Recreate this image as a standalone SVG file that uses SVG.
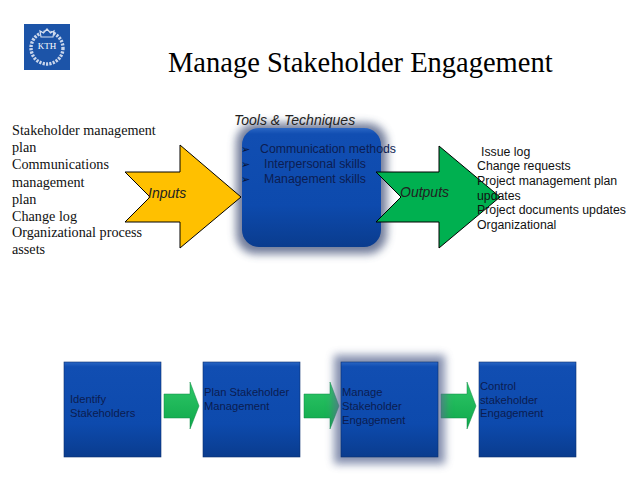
<svg xmlns="http://www.w3.org/2000/svg" width="638" height="479" viewBox="0 0 638 479">
<style>
text{font-family:"Liberation Sans",Arial,sans-serif;fill:#000}
.serif{font-family:"Liberation Serif","Times New Roman",serif;font-size:14.2px;fill:#111}
.title{font-family:"Liberation Serif","Times New Roman",serif;font-size:28.5px}
.sans{font-size:12.3px;fill:#111}
.ital{font-style:italic;font-size:14px;fill:#222}
.dark{font-size:11.2px;fill:#0b1c50}
.tool{font-size:12.3px;fill:#0c1d52}
.bul{font-family:"DejaVu Sans",sans-serif;font-size:11px;fill:#0a1435}
.big{stroke:#000;stroke-width:1}
.box{stroke:#0a2f70;stroke-width:0.6}
</style>
<defs>
<linearGradient id="blue" x1="0" y1="0" x2="0" y2="1">
<stop offset="0" stop-color="#2a66c4"/><stop offset="0.05" stop-color="#114eb2"/><stop offset="0.65" stop-color="#0d4aad"/><stop offset="1" stop-color="#0a3c8e"/>
</linearGradient>
<linearGradient id="grn" x1="0" y1="0" x2="0" y2="1">
<stop offset="0" stop-color="#2fc768"/><stop offset="1" stop-color="#0ea84a"/>
</linearGradient>
<filter id="glow" x="-30%" y="-30%" width="160%" height="160%"><feGaussianBlur stdDeviation="4"/></filter>
<filter id="soft" x="-10%" y="-10%" width="120%" height="120%"><feGaussianBlur stdDeviation="1"/></filter>
<path id="small" d="M0 12H26V0L35 24L26 47V36H0Z" fill="url(#grn)" stroke="#0f8a44" stroke-width="0.5"/>
</defs>

<rect width="638" height="479" fill="#fff"/>

<g id="logo">
<rect x="24" y="24" width="46" height="46" fill="#1c54a8"/>
<circle cx="47" cy="48" r="16" fill="none" stroke="#c9d6ec" stroke-width="3.4" stroke-dasharray="2.2 1.2"/>
<path d="M41 37L40 31L43.500 33L47 29L50.500 33L54 31L53 37Z" fill="#1c54a8" stroke="#d4deef" stroke-width="1.2"/>
<text x="47" y="49" text-anchor="middle" style="font-family:'Liberation Serif',serif;font-size:9px;fill:#fff">KTH</text>
</g>

<g id="title"><text class="title" x="168" y="72">Manage Stakeholder Engagement</text></g>

<g id="inputs-list">
<text class="serif" x="12" y="135">Stakeholder management</text>
<text class="serif" x="12" y="152">plan</text>
<text class="serif" x="12" y="169">Communications</text>
<text class="serif" x="12" y="187">management</text>
<text class="serif" x="12" y="204">plan</text>
<text class="serif" x="12" y="221">Change log</text>
<text class="serif" x="12" y="237">Organizational process</text>
<text class="serif" x="12" y="254">assets</text>
</g>

<g id="tools">
<rect x="236" y="123" width="151" height="131" rx="20" fill="#44537a" opacity="0.75" filter="url(#glow)"/>
<rect x="242" y="128" width="139" height="119" rx="17" fill="url(#blue)"/>
<text class="ital" x="234" y="125" style="font-size:14px">Tools &amp; Techniques</text>
<text class="bul" x="241" y="153">➢</text>
<text class="bul" x="241" y="168">➢</text>
<text class="bul" x="241" y="183">➢</text>
<text class="tool" x="260" y="153">Communication methods</text>
<text class="tool" x="264" y="168">Interpersonal skills</text>
<text class="tool" x="264" y="183">Management skills</text>
</g>

<g id="connectors">
<g id="arrow-inputs">
<path class="big" d="M125 172H180V145L241 197L180 248V222H125L150 197Z" fill="#ffc000"/>
<text class="ital" x="148" y="198">Inputs</text>
</g>
<g id="arrow-outputs">
<path class="big" d="M376 172H439V146L500 197L439 248V222H376L401 197Z" fill="#00b050"/>
<text class="ital" x="400" y="197">Outputs</text>
</g>
<use href="#small" x="164" y="382"/>
<use href="#small" x="304" y="382"/>
<use href="#small" x="441" y="382"/>
</g>

<g id="outputs-list">
<text class="sans" x="481" y="156">Issue log</text>
<text class="sans" x="477" y="170">Change requests</text>
<text class="sans" x="477" y="185">Project management plan</text>
<text class="sans" x="477" y="200">updates</text>
<text class="sans" x="477" y="214">Project documents updates</text>
<text class="sans" x="477" y="229">Organizational</text>
</g>

<g id="identify">
<rect class="box" x="64" y="362" width="97" height="95" fill="url(#blue)"/>
<text class="dark" x="70" y="403">Identify</text>
<text class="dark" x="70" y="417">Stakeholders</text>
</g>
<g id="plan">
<rect class="box" x="203" y="362" width="97" height="95" fill="url(#blue)"/>
<text class="dark" x="204" y="396">Plan Stakeholder</text>
<text class="dark" x="204" y="410">Management</text>
</g>
<g id="manage">
<rect x="334" y="355" width="111" height="109" fill="#5d6c94" opacity="0.75" filter="url(#glow)"/>
<rect class="box" x="341" y="362" width="97" height="95" fill="url(#blue)"/>
<text class="dark" x="342" y="396">Manage</text>
<text class="dark" x="342" y="410">Stakeholder</text>
<text class="dark" x="342" y="424">Engagement</text>
</g>
<g id="control">
<rect class="box" x="479" y="362" width="97" height="95" fill="url(#blue)"/>
<text class="dark" x="480" y="390">Control</text>
<text class="dark" x="480" y="404">stakeholder</text>
<text class="dark" x="480" y="417">Engagement</text>
</g>
</svg>
